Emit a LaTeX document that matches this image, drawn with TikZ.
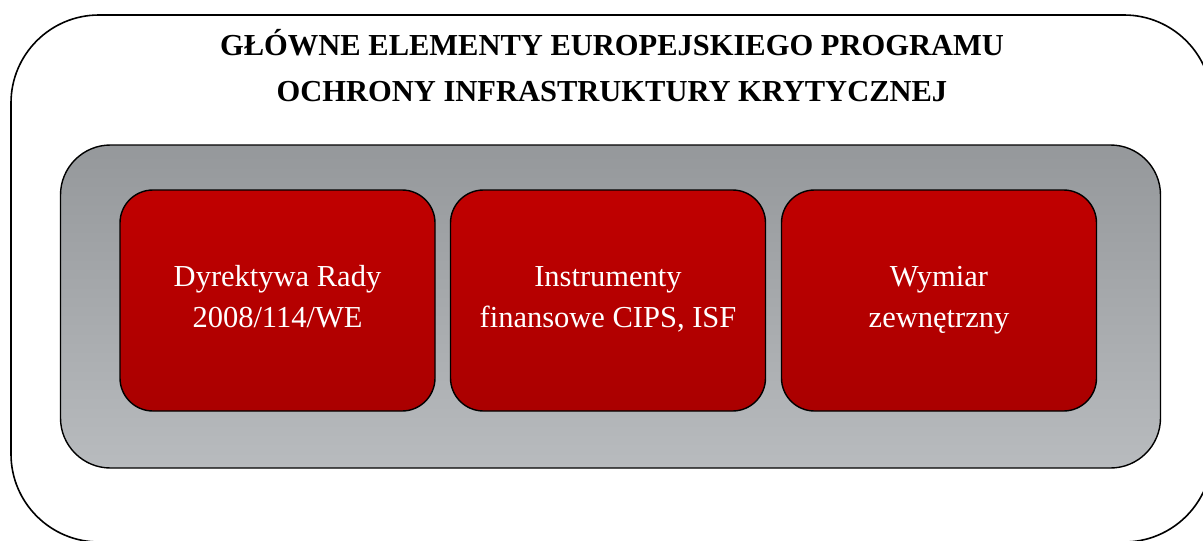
\documentclass[tikz,border=0pt]{standalone}
\usepackage{fontspec}
\setmainfont{Liberation Serif}
\definecolor{graytop}{HTML}{95989B}
\definecolor{graybot}{HTML}{B8BBBE}
\definecolor{redtop}{HTML}{C00000}
\definecolor{redbot}{HTML}{AA0000}
\tikzset{
  outerbox/.style={draw=black, line width=1.6pt, rounded corners=88pt, fill=white,
    minimum width=1201pt, minimum height=527pt, inner sep=0pt},
  graybox/.style={draw=black, line width=1.4pt, rounded corners=50pt,
    top color=graytop, bottom color=graybot,
    minimum width=1100pt, minimum height=323pt, inner sep=0pt},
  redbox/.style={draw=black, line width=1.4pt, rounded corners=33pt,
    top color=redtop, bottom color=redbot,
    minimum width=315pt, minimum height=221pt, inner sep=0pt},
  boxtext/.style={inner sep=0pt, text=white, align=center,
    font=\fontsize{30.5}{41}\selectfont},
  titletext/.style={inner sep=0pt, align=center, text=black,
    font=\fontsize{30.5}{46}\selectfont\bfseries}
}
\begin{document}
\begin{tikzpicture}[x=1pt,y=-1pt]
\useasboundingbox (0,0) rectangle (1203,541);
\node[outerbox] (outer) at (611.5,278.5) {};
\node[titletext] (title) at (612,69.5) {\strut GŁÓWNE ELEMENTY EUROPEJSKIEGO PROGRAMU\\\strut OCHRONY INFRASTRUKTURY KRYTYCZNEJ};
\node[graybox] (panel) at (610.5,306.5) {};
\node[redbox] (b1) at (277.5,300.5) {};
\node[redbox] (b2) at (608,300.5) {};
\node[redbox] (b3) at (939,300.5) {};
\node[boxtext] (t1) at ([yshift=2pt]b1.center) {\strut Dyrektywa Rady\\\strut 2008/114/WE};
\node[boxtext] (t2) at ([yshift=2pt]b2.center) {\strut Instrumenty\\\strut finansowe CIPS, ISF};
\node[boxtext] (t3) at ([yshift=2pt]b3.center) {\strut Wymiar\\\strut zewnętrzny};
\end{tikzpicture}
\end{document}
